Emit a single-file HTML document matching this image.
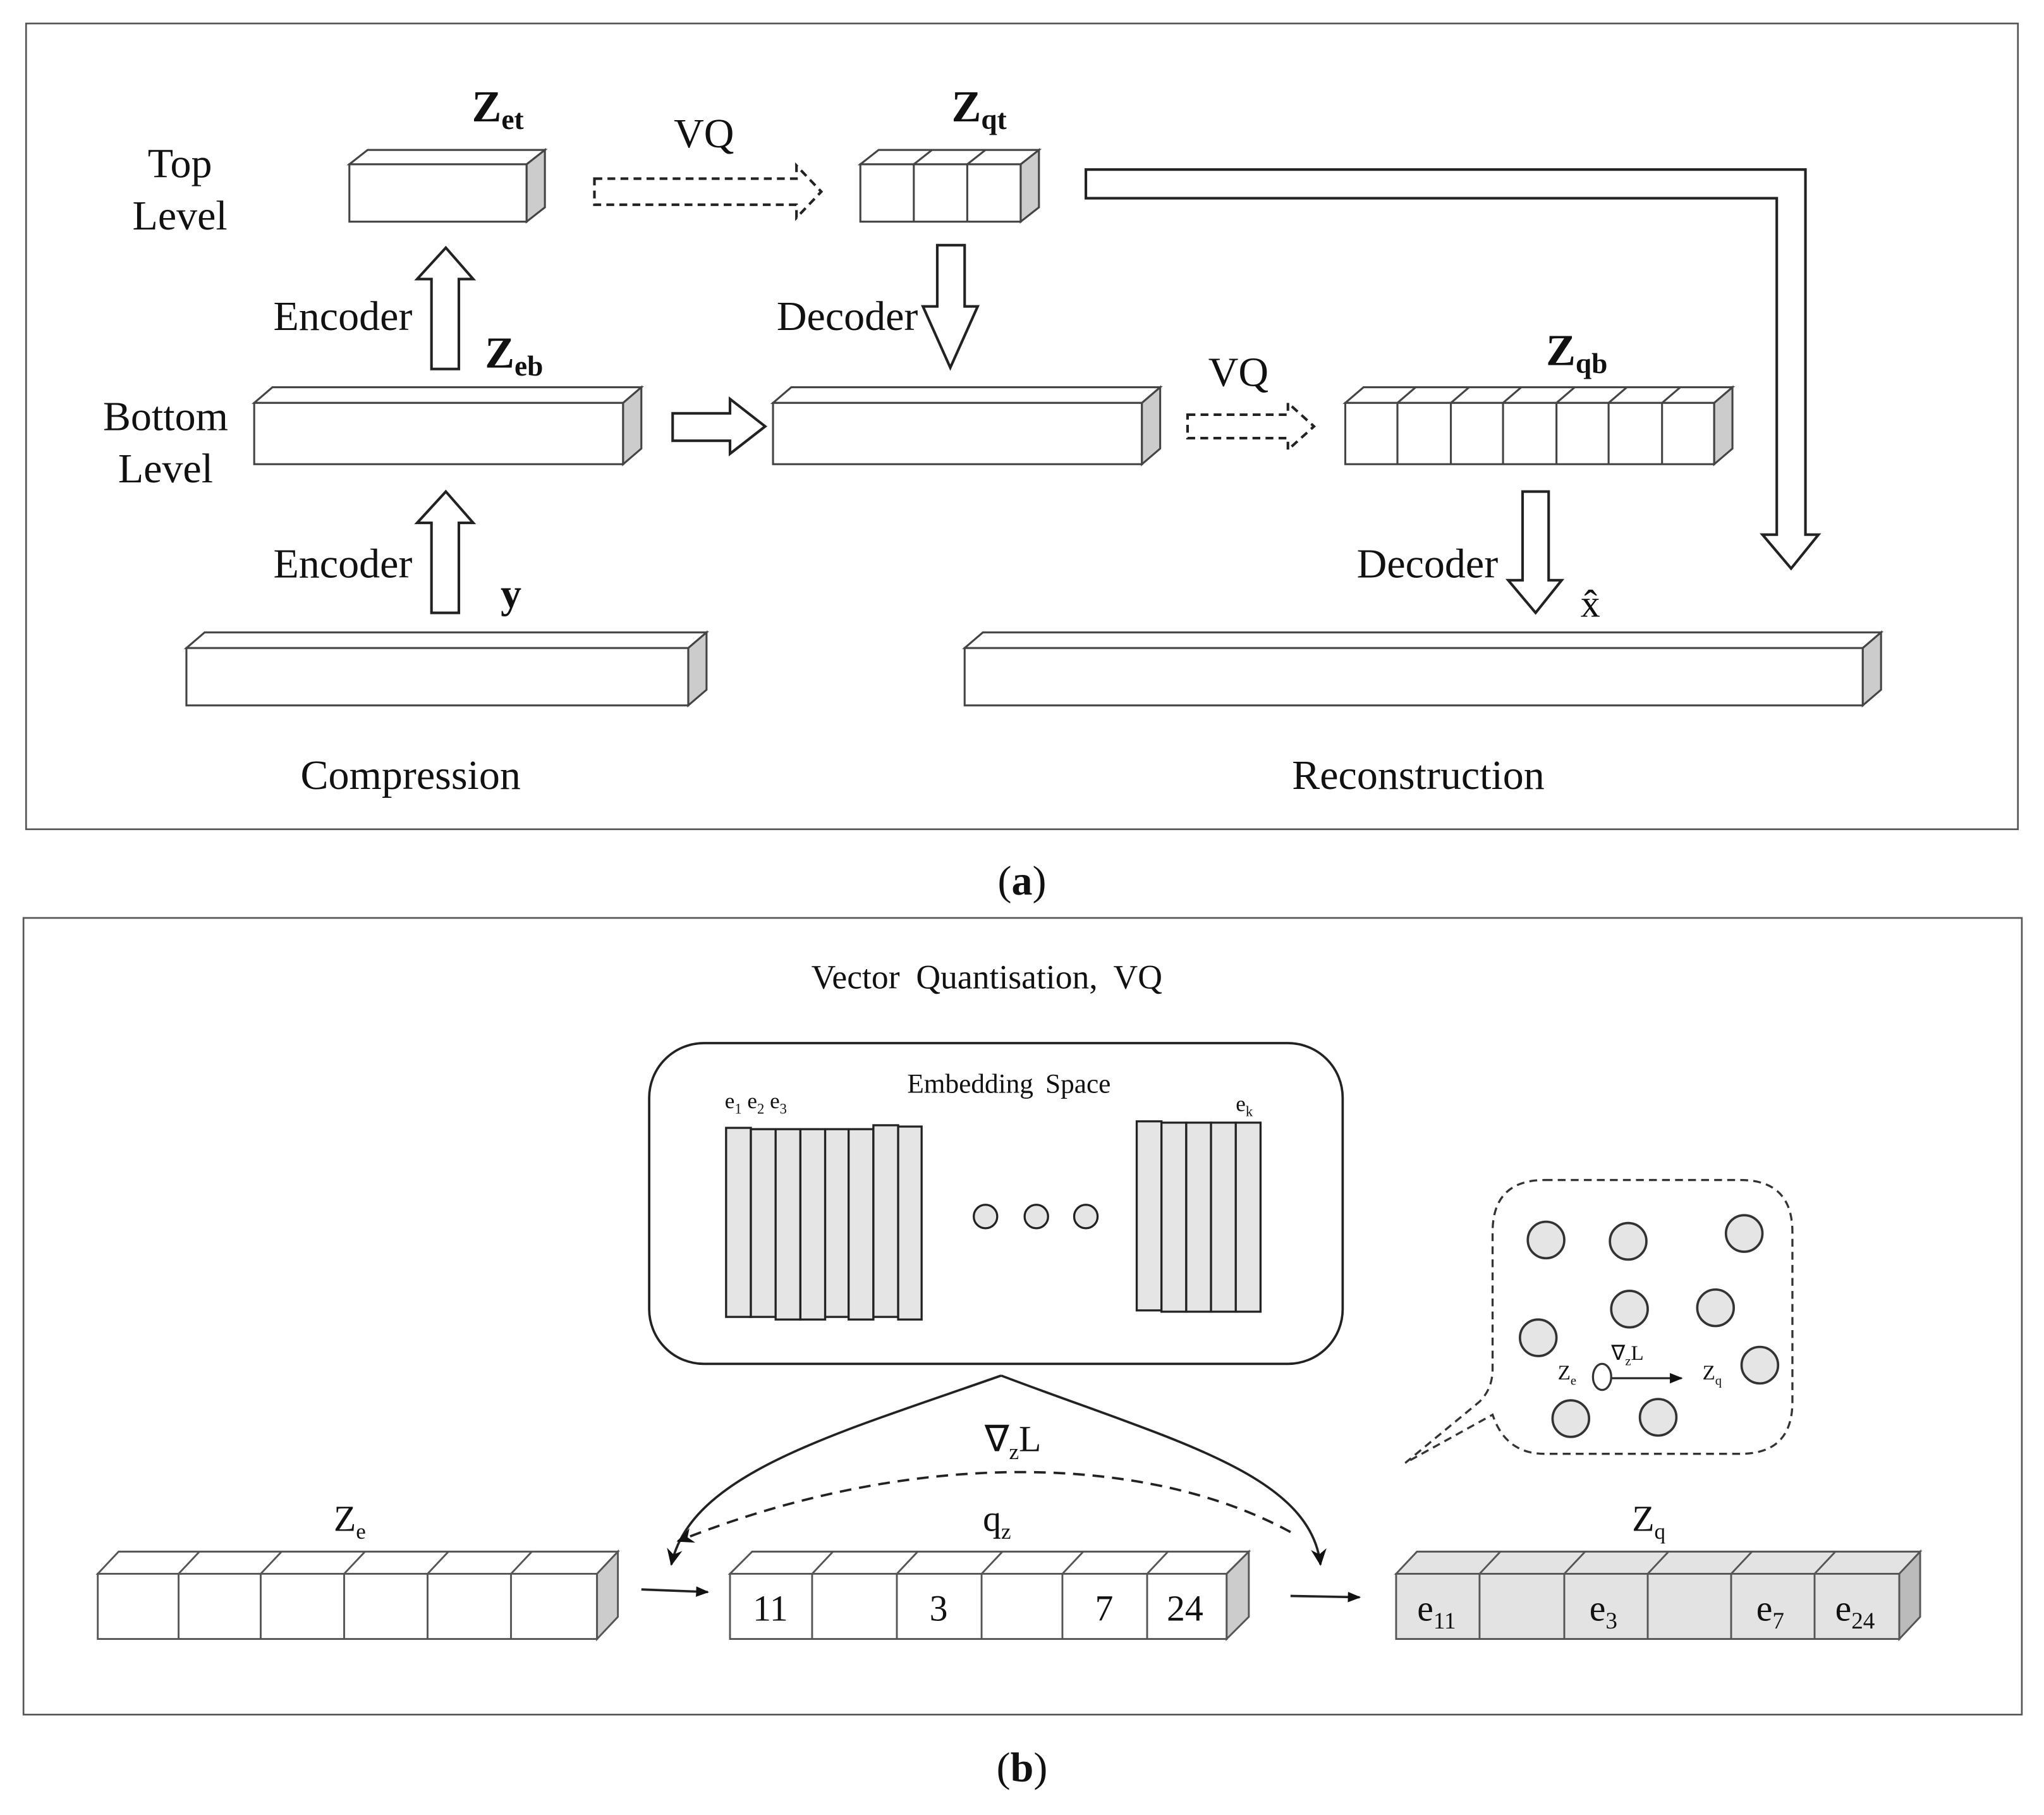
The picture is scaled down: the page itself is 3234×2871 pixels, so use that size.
<!DOCTYPE html>
<html><head><meta charset="utf-8"><style>
html,body{margin:0;padding:0;background:#fff;}
svg{display:block;}
text{font-family:"Liberation Serif",serif;fill:#111;}
</style></head><body>
<svg width="3234" height="2871" viewBox="0 0 1568 1392" xmlns="http://www.w3.org/2000/svg">
<defs>
<marker id="ah" markerWidth="10" markerHeight="10" refX="9" refY="5" orient="auto" markerUnits="userSpaceOnUse"><path d="M0,1 L10,5 L0,9 z" fill="#111"/></marker>
<marker id="ah2" markerWidth="14" markerHeight="14" refX="12" refY="7" orient="auto" markerUnits="userSpaceOnUse"><path d="M0,1 L13,7 L0,13 L4,7 z" fill="#111"/></marker>
</defs>
<g fill="none" stroke="#555" stroke-width="1.3">
<rect x="20" y="18" width="1528" height="618"/>
<rect x="18" y="704" width="1533" height="611"/>
</g>

<g font-size="32" text-anchor="middle">
<text x="138" y="136">Top</text><text x="138" y="176">Level</text>
<text x="127" y="330">Bottom</text><text x="127" y="370">Level</text>
<text x="263" y="253">Encoder</text>
<text x="650" y="253">Decoder</text>
<text x="263" y="443">Encoder</text>
<text x="1095" y="443">Decoder</text>
<text x="540" y="113">VQ</text>
<text x="950" y="296">VQ</text>
<text x="315" y="605">Compression</text>
<text x="1088" y="605">Reconstruction</text>
</g>
<g font-weight="bold">
<text x="362" y="93" font-size="34">Z<tspan font-size="22" dy="6">et</tspan></text>
<text x="730" y="93" font-size="34">Z<tspan font-size="22" dy="6">qt</tspan></text>
<text x="372" y="282" font-size="34">Z<tspan font-size="22" dy="6">eb</tspan></text>
<text x="1186" y="280" font-size="34">Z<tspan font-size="22" dy="6">qb</tspan></text>
<text x="384" y="466" font-size="32">y</text>
<text x="784" y="686" font-size="32" font-weight="normal" text-anchor="middle">(<tspan font-weight="bold">a</tspan>)</text>
<text x="784" y="1366" font-size="32" font-weight="normal" text-anchor="middle">(<tspan font-weight="bold">b</tspan>)</text>
</g>
<text x="1220" y="473" font-size="30" text-anchor="middle">x̂</text>

<g stroke="#444" stroke-width="1.5" fill="#fff">
<polygon points="268,126 282,115 418,115 404,126"/><rect x="268" y="126" width="136" height="44"/><polygon points="404,126 418,115 418,159 404,170" fill="#ccc"/>
<polygon points="660,126 674,115 797,115 783,126"/><rect x="660" y="126" width="123" height="44"/><polygon points="783,126 797,115 797,159 783,170" fill="#ccc"/>
<line x1="701" y1="126" x2="701" y2="170"/><line x1="742" y1="126" x2="742" y2="170"/>
<line x1="701" y1="126" x2="715" y2="115"/><line x1="742" y1="126" x2="756" y2="115"/>
<polygon points="195,309 209,297 492,297 478,309"/><rect x="195" y="309" width="283" height="47"/><polygon points="478,309 492,297 492,344 478,356" fill="#ccc"/>
<polygon points="593,309 607,297 890,297 876,309"/><rect x="593" y="309" width="283" height="47"/><polygon points="876,309 890,297 890,344 876,356" fill="#ccc"/>
<polygon points="1032,309 1046,297 1329,297 1315,309"/><rect x="1032" y="309" width="283" height="47"/><polygon points="1315,309 1329,297 1329,344 1315,356" fill="#ccc"/>
<g fill="none">
<path d="M1072,309V356M1113,309V356M1153,309V356M1194,309V356M1234,309V356M1275,309V356"/>
<path d="M1072,309l14,-12M1113,309l14,-12M1153,309l14,-12M1194,309l14,-12M1234,309l14,-12M1275,309l14,-12"/>
</g>
<polygon points="143,497 157,485 542,485 528,497"/><rect x="143" y="497" width="385" height="44"/><polygon points="528,497 542,485 542,529 528,541" fill="#ccc"/>
<polygon points="740,497 754,485 1443,485 1429,497"/><rect x="740" y="497" width="689" height="44"/><polygon points="1429,497 1443,485 1443,529 1429,541" fill="#ccc"/>
</g>

<g stroke="#222" stroke-width="2" fill="#fff" stroke-linejoin="miter">
<polygon points="331,283 331,214 320,214 342,190 363,214 352,214 352,283"/>
<polygon points="331,470 331,401 320,401 342,377 363,401 352,401 352,470"/>
<polygon points="719,188 740,188 740,235 750,235 729,282 708,235 719,235"/>
<polygon points="1168,377 1188,377 1188,445 1198,445 1178,470 1157,445 1168,445"/>
<polygon points="516,317 560,317 560,306 587,327 560,348 560,338 516,338"/>
<polygon points="833,130 1385,130 1385,410 1395,410 1374,436 1352,410 1363,410 1363,152 833,152"/>
</g>
<g stroke="#222" stroke-width="2" fill="none" stroke-dasharray="6,4">
<polygon points="456,137 611,137 611,127 630,147 611,167 611,157 456,157"/>
<polygon points="911,318 988,318 988,309 1008,327 988,345 988,336 911,336"/>
</g>

<text x="757" y="758" font-size="26" word-spacing="6" text-anchor="middle">Vector  Quantisation, VQ</text>
<rect x="498" y="800" width="532" height="246" rx="42" fill="none" stroke="#222" stroke-width="1.8"/>
<text x="774" y="838" font-size="21" word-spacing="4" text-anchor="middle">Embedding  Space</text>
<text x="556" y="850" font-size="17">e<tspan font-size="11" dy="4">1</tspan><tspan dy="-4"> e</tspan><tspan font-size="11" dy="4">2</tspan><tspan dy="-4"> e</tspan><tspan font-size="11" dy="4">3</tspan></text>
<text x="948" y="852" font-size="17">e<tspan font-size="11" dy="4">k</tspan></text>
<g fill="#e5e5e5" stroke="#222" stroke-width="1.6">
<rect x="557" y="865" width="19" height="145"/><rect x="576" y="866" width="19" height="144"/>
<rect x="595" y="866" width="19" height="146"/><rect x="614" y="866" width="19" height="146"/>
<rect x="633" y="866" width="18" height="144"/><rect x="651" y="866" width="19" height="146"/>
<rect x="670" y="863" width="19" height="147"/><rect x="689" y="864" width="18" height="148"/>
<rect x="872" y="860" width="19" height="145"/><rect x="891" y="861" width="19" height="145"/>
<rect x="910" y="861" width="19" height="145"/><rect x="929" y="861" width="19" height="145"/><rect x="948" y="861" width="19" height="145"/>
<circle cx="756" cy="933" r="9"/><circle cx="795" cy="933" r="9"/><circle cx="833" cy="933" r="9"/>
</g>

<g fill="none" stroke="#222" stroke-width="1.8">
<path d="M768,1055 C640,1100 530,1130 515,1200" marker-end="url(#ah2)"/>
<path d="M768,1055 C900,1105 1005,1130 1013,1200" marker-end="url(#ah2)"/>
<path d="M990,1175 C880,1115 700,1110 520,1182" stroke-dasharray="9,6" marker-end="url(#ah2)"/>
<path d="M492,1219 L543,1221" marker-end="url(#ah)"/>
<path d="M990,1224 L1043,1225" marker-end="url(#ah)"/>
<path d="M1234,1057 L1290,1057" stroke-width="1.5" marker-end="url(#ah)"/>
</g>
<text x="777" y="1113" font-size="28" text-anchor="middle">∇<tspan font-size="17" dy="6">z</tspan><tspan dy="-6">L</tspan></text>
<text x="256" y="1174" font-size="28">Z<tspan font-size="17" dy="6">e</tspan></text>
<text x="754" y="1174" font-size="28">q<tspan font-size="17" dy="6">z</tspan></text>
<text x="1252" y="1174" font-size="28">Z<tspan font-size="17" dy="6">q</tspan></text>

<path d="M1185,905 H1335 Q1375,905 1375,945 V1075 Q1375,1115 1335,1115 H1185 Q1155,1115 1145,1085 L1078,1122 L1135,1075 Q1145,1065 1145,1050 V945 Q1145,905 1185,905 Z" fill="none" stroke="#333" stroke-width="1.6" stroke-dasharray="6,4"/>
<g fill="#e5e5e5" stroke="#333" stroke-width="1.8">
<circle cx="1186" cy="951" r="14"/><circle cx="1249" cy="952" r="14"/><circle cx="1338" cy="946" r="14"/>
<circle cx="1250" cy="1004" r="14"/><circle cx="1316" cy="1003" r="14"/><circle cx="1180" cy="1026" r="14"/>
<circle cx="1350" cy="1047" r="14"/><circle cx="1205" cy="1088" r="14"/><circle cx="1272" cy="1087" r="14"/>
</g>
<ellipse cx="1229" cy="1056" rx="7" ry="10" fill="#fff" stroke="#333" stroke-width="1.6"/>
<text x="1195" y="1058" font-size="16">Z<tspan font-size="10" dy="4">e</tspan></text>
<text x="1306" y="1058" font-size="16">Z<tspan font-size="10" dy="4">q</tspan></text>
<text x="1236" y="1043" font-size="16">∇<tspan font-size="10" dy="4">z</tspan><tspan dy="-4">L</tspan></text>

<g stroke="#555" stroke-width="1.4">
<g fill="#fff">
<polygon points="75,1207 91,1190 474,1190 458,1207"/><rect x="75" y="1207" width="383" height="50"/><polygon points="458,1207 474,1190 474,1240 458,1257" fill="#ccc"/>
<path d="M137,1207V1257M200,1207V1257M264,1207V1257M328,1207V1257M392,1207V1257M137,1207l16,-17M200,1207l16,-17M264,1207l16,-17M328,1207l16,-17M392,1207l16,-17" fill="none"/>
<polygon points="560,1207 577,1190 958,1190 941,1207"/><rect x="560" y="1207" width="381" height="50"/><polygon points="941,1207 958,1190 958,1240 941,1257" fill="#ccc"/>
<path d="M623,1207V1257M688,1207V1257M753,1207V1257M815,1207V1257M880,1207V1257M623,1207l16,-17M688,1207l16,-17M753,1207l16,-17M815,1207l16,-17M880,1207l16,-17" fill="none"/>
</g>
<g fill="#e3e3e3">
<polygon points="1071,1207 1087,1190 1473,1190 1457,1207"/><rect x="1071" y="1207" width="386" height="50"/><polygon points="1457,1207 1473,1190 1473,1240 1457,1257" fill="#bbb"/>
<path d="M1135,1207V1257M1200,1207V1257M1264,1207V1257M1328,1207V1257M1392,1207V1257M1135,1207l16,-17M1200,1207l16,-17M1264,1207l16,-17M1328,1207l16,-17M1392,1207l16,-17" fill="none"/>
</g>
</g>
<g font-size="28" text-anchor="middle">
<text x="591" y="1243">11</text><text x="720" y="1243">3</text><text x="847" y="1243">7</text><text x="909" y="1243">24</text>
<text x="1102" y="1243">e<tspan font-size="18" dy="6">11</tspan></text>
<text x="1230" y="1243">e<tspan font-size="18" dy="6">3</tspan></text>
<text x="1358" y="1243">e<tspan font-size="18" dy="6">7</tspan></text>
<text x="1423" y="1243">e<tspan font-size="18" dy="6">24</tspan></text>
</g>
</svg>
</body></html>
